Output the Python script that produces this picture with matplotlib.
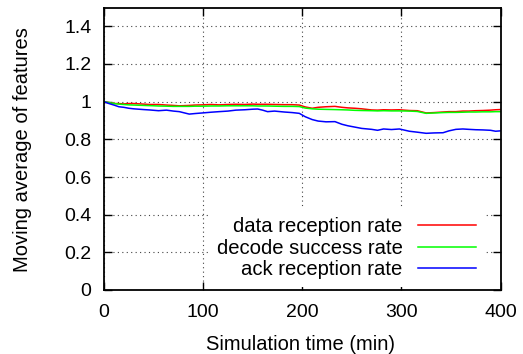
import matplotlib
matplotlib.use("Agg")
import matplotlib.pyplot as plt

plt.rcParams['font.family'] = ['Liberation Sans', 'DejaVu Sans']

# simulation time (min)
t = [0, 5, 10, 15, 20, 25, 30, 40, 46, 55, 63, 70, 76, 86, 92, 99, 108, 116, 125, 133,
     142, 150, 155, 160, 165, 172, 182, 190, 197, 203, 210, 216, 224, 233, 240, 246, 253,
     260, 270, 276, 282, 290, 298, 308, 316, 325, 333, 342, 348, 355, 362, 368, 375, 382,
     390, 395, 400]

data_rate = [1.0, 0.995, 0.99, 0.99, 0.988, 0.99, 0.99, 0.987, 0.985, 0.985, 0.982, 0.98,
             0.978, 0.98, 0.982, 0.983, 0.985, 0.983, 0.985, 0.986, 0.985, 0.987, 0.986,
             0.986, 0.986, 0.985, 0.984, 0.984, 0.982, 0.972, 0.965, 0.97, 0.973, 0.975,
             0.97, 0.967, 0.965, 0.962, 0.956, 0.955, 0.957, 0.956, 0.957, 0.953, 0.952,
             0.94, 0.942, 0.945, 0.947, 0.947, 0.95, 0.95, 0.952, 0.953, 0.955, 0.957, 0.958]

decode_rate = [1.0, 0.995, 0.99, 0.987, 0.985, 0.983, 0.982, 0.98, 0.979, 0.977, 0.976,
               0.975, 0.975, 0.975, 0.976, 0.976, 0.977, 0.977, 0.978, 0.978, 0.978, 0.978,
               0.977, 0.977, 0.977, 0.976, 0.975, 0.975, 0.974, 0.966, 0.962, 0.96, 0.959,
               0.958, 0.957, 0.956, 0.954, 0.953, 0.952, 0.951, 0.952, 0.951, 0.951, 0.95,
               0.948, 0.938, 0.94, 0.942, 0.943, 0.943, 0.944, 0.945, 0.945, 0.946, 0.946,
               0.947, 0.947]

ack_rate = [1.0, 0.99, 0.982, 0.973, 0.97, 0.965, 0.962, 0.958, 0.956, 0.952, 0.955, 0.95,
            0.947, 0.934, 0.937, 0.94, 0.944, 0.947, 0.95, 0.955, 0.957, 0.96, 0.961, 0.955,
            0.947, 0.95, 0.945, 0.942, 0.938, 0.92, 0.905, 0.897, 0.893, 0.894, 0.88, 0.872,
            0.865, 0.858, 0.853, 0.848, 0.855, 0.852, 0.855, 0.843, 0.838, 0.832, 0.834,
            0.835, 0.845, 0.853, 0.855, 0.853, 0.851, 0.85, 0.848, 0.843, 0.845]

fig = plt.figure(figsize=(5.23, 3.54), dpi=100)
ax = fig.add_axes([104 / 523, 64 / 354, 396.5 / 523, 282.5 / 354])

ax.plot(t, data_rate, color='#ff0000', lw=1.1, label='data reception rate')
ax.plot(t, decode_rate, color='#00ff00', lw=1.1, label='decode success rate')
ax.plot(t, ack_rate, color='#0000ff', lw=1.1, label='ack reception rate')

ax.set_xlim(0, 400)
ax.set_ylim(0, 1.5)
ax.set_xticks([0, 100, 200, 300, 400])
ax.set_yticks([0, 0.2, 0.4, 0.6, 0.8, 1.0, 1.2, 1.4])
ax.set_yticklabels(['0', '0.2', '0.4', '0.6', '0.8', '1', '1.2', '1.4'])
ax.grid(True, linestyle=(0, (1, 3)), color='#444444', lw=0.8)
ax.tick_params(direction='in', length=6, width=1, top=True, right=True,
               labelsize=14)
ax.tick_params(axis='x', pad=10)
ax.tick_params(axis='y', pad=9)
for s in ax.spines.values():
    s.set_linewidth(1.3)

# axis titles placed in figure pixels like the original
fig.text(301 / 523, 1 - 344 / 354, 'Simulation time (min)', fontsize=14.5,
         ha='center', va='center')
fig.text(23 / 523, 1 - 150 / 354, 'Moving average of features', fontsize=14.5,
         ha='center', va='center', rotation=90)

leg = ax.legend(loc='lower right', bbox_to_anchor=(0.97, -0.005), markerfirst=False,
                fontsize=14.6, handlelength=2.9, handletextpad=0.75, labelspacing=0.12,
                frameon=True, fancybox=False, borderaxespad=0.2)
leg.get_frame().set_facecolor('white')
leg.get_frame().set_edgecolor('none')
leg.get_frame().set_alpha(1.0)
for txt in leg.get_texts():
    txt.set_ha('right')

fig.savefig('out.png', dpi=100)
